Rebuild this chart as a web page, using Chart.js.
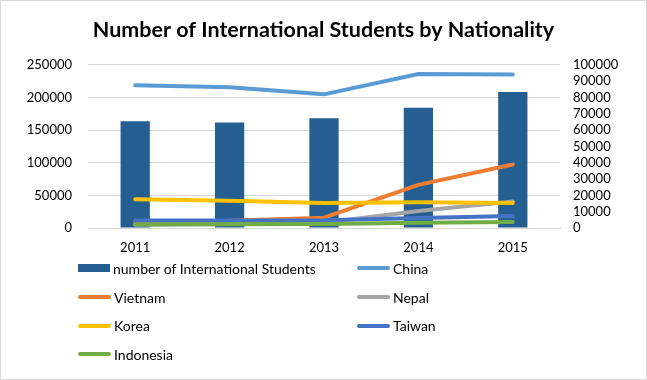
<!DOCTYPE html>
<html>
<head>
<meta charset="utf-8">
<script src="https://cdn.jsdelivr.net/npm/chart.js@4"></script>
<style>
    body { margin: 0; background: #fff; font-family: Lato, "Open Sans", sans-serif; }
    #wrap { position: relative; width: 647px; height: 380px; }
    #frame { position: absolute; left: 0; top: 0; width: 645px; height: 378px; border: 1px solid #d9d9d9; pointer-events: none; }
    #legend { position: absolute; left: 78px; top: 254px; display: grid; grid-template-columns: 279px 200px; grid-auto-rows: 28.7px; font-size: 14px; color: #000; }
    .item { display: flex; align-items: center; }
    .sw { display: inline-block; margin-right: 3px; }
</style>
</head>
<body>
<div id="wrap">
    <canvas id="chart" width="647" height="380"></canvas>
    <div id="legend"></div>
    <div id="frame"></div>
</div>
<script>
const years = ["2011", "2012", "2013", "2014", "2015"];
const total = [163700, 161800, 168100, 184200, 208400];
const china = [87500, 86300, 81900, 94400, 94100];
const vietnam = [4000, 4400, 6300, 26400, 38900];
const nepal = [2000, 2500, 3200, 10400, 16300];
const korea = [17600, 16700, 15300, 15800, 15300];
const taiwan = [4600, 4600, 4700, 6200, 7300];
const indonesia = [2200, 2300, 2400, 3200, 3600];

function line(label, data, color, order) {
    return {
        type: "line", label, data, yAxisID: "y1", order,
        borderColor: color, backgroundColor: color,
        borderWidth: 4, pointRadius: 0, tension: 0,
        borderCapStyle: "round", borderJoinStyle: "round"
    };
}

const plain = v => String(v);

const chart = new Chart(document.getElementById("chart"), {
    type: "bar",
    data: {
        labels: years,
        datasets: [
            {
                label: "number of International Students", data: total, yAxisID: "y", order: 7,
                backgroundColor: "#255e91", barPercentage: 0.31, categoryPercentage: 1
            },
            line("China", china, "#5b9bd5", 6),
            line("Vietnam", vietnam, "#ed7d31", 5),
            line("Nepal", nepal, "#a5a5a5", 4),
            line("Korea", korea, "#ffc000", 3),
            line("Taiwan", taiwan, "#4472c4", 2),
            line("Indonesia", indonesia, "#70ad47", 1)
        ]
    },
    options: {
        responsive: false,
        animation: false,
        layout: { padding: { left: 0, right: 0, top: 0, bottom: 120 } },
        plugins: {
            legend: { display: false },
            tooltip: { enabled: false },
            title: {
                display: true,
                text: "Number of International Students by Nationality",
                color: "#000",
                font: { family: "Lato", size: 21.5, weight: "bold" },
                padding: { top: 17, bottom: 22 }
            }
        },
        scales: {
            x: {
                grid: { display: false, drawTicks: false },
                border: { color: "#d9d9d9" },
                ticks: { color: "#000", font: { family: "Lato", size: 13 }, padding: 12 },
                afterFit: s => { s.height = 32; }
            },
            y: {
                position: "left", min: 0, max: 250000,
                grid: { color: "#d9d9d9", drawTicks: false },
                border: { display: false },
                ticks: { stepSize: 50000, color: "#000", font: { family: "Lato", size: 13 }, padding: 16, callback: plain },
                afterFit: s => { s.width = 88; }
            },
            y1: {
                position: "right", min: 0, max: 100000,
                grid: { display: false, drawTicks: false },
                border: { display: false },
                ticks: { stepSize: 10000, autoSkip: false, color: "#000", font: { family: "Lato", size: 13 }, padding: 13, callback: plain },
                afterFit: s => { s.width = 87; }
            }
        }
    }
});

// legend in two columns, like the spreadsheet one
const legendBox = document.getElementById("legend");
chart.data.datasets.forEach(d => {
    const isBar = d.type !== "line";
    const sw = isBar
        ? `<span class="sw" style="width:32px;height:8px;background:${d.backgroundColor}"></span>`
        : `<span class="sw" style="width:33px;height:4px;border-radius:2px;background:${d.borderColor}"></span>`;
    legendBox.innerHTML += `<div class="item">${sw}<span>${d.label}</span></div>`;
});
</script>
</body>
</html>
